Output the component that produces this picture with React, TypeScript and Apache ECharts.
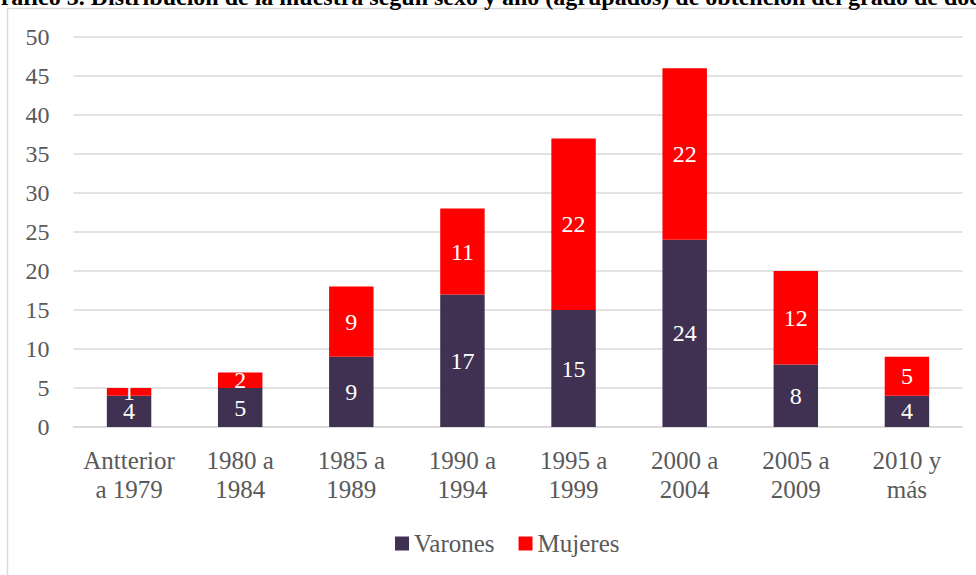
import React, { useEffect, useRef } from "react";
import * as echarts from "echarts";

const categories = [
  "Antterior\na 1979",
  "1980 a\n1984",
  "1985 a\n1989",
  "1990 a\n1994",
  "1995 a\n1999",
  "2000 a\n2004",
  "2005 a\n2009",
  "2010 y\nmás",
];
const varones = [4, 5, 9, 17, 15, 24, 8, 4];
const mujeres = [1, 2, 9, 11, 22, 22, 12, 5];
const titleText =
  "Gráfico 3. Distribución de la muestra según sexo y año (agrupados) de obtención del grado de doctor";

const FONT = "'Liberation Serif', 'DejaVu Serif', serif";

export default function App() {
  const ref = useRef<HTMLDivElement>(null);
  useEffect(() => {
    document.body.style.margin = "0";
    const chart = echarts.init(ref.current!, null, { renderer: "svg" });
    chart.setOption({
      animation: false,
      textStyle: { fontFamily: FONT },
      graphic: [
        {
          type: "rect",
          shape: { x: 7.5, y: 8.5, width: 1000, height: 600 },
          style: { fill: "none", stroke: "#d9d9d9", lineWidth: 1.5 },
          silent: true,
        },
        {
          type: "text",
          x: -18,
          y: 9,
          style: {
            text: titleText,
            fontFamily: FONT,
            fontWeight: "bold",
            fontSize: 24,
            fill: "#000",
            verticalAlign: "bottom",
          },
        },
      ],
      grid: { left: 73.5, right: 13.5, top: 37, bottom: 148, containLabel: false },
      legend: {
        bottom: 14,
        left: 390,
        itemWidth: 14,
        itemHeight: 14,
        itemGap: 24,
        icon: "rect",
        textStyle: { fontSize: 25, color: "#595959", fontFamily: FONT },
        data: ["Varones", "Mujeres"],
      },
      xAxis: {
        type: "category",
        data: categories,
        axisLine: { lineStyle: { color: "#d9d9d9", width: 1.5 } },
        axisTick: { show: false },
        axisLabel: {
          color: "#595959",
          fontSize: 25,
          lineHeight: 29,
          margin: 19,
          interval: 0,
          fontFamily: FONT,
        },
      },
      yAxis: {
        type: "value",
        min: 0,
        max: 50,
        interval: 5,
        axisLine: { show: false },
        axisTick: { show: false },
        splitLine: { lineStyle: { color: "#d9d9d9", width: 1.5 } },
        axisLabel: { color: "#595959", fontSize: 24, margin: 24, fontFamily: FONT },
      },
      series: [
        {
          name: "Varones",
          type: "bar",
          stack: "total",
          data: varones,
          barCategoryGap: "60%",
          itemStyle: { color: "#403152" },
          label: {
            show: true,
            position: "inside",
            color: "#fff",
            fontSize: 24,
            fontFamily: FONT,
          },
        },
        {
          name: "Mujeres",
          type: "bar",
          stack: "total",
          data: mujeres,
          barCategoryGap: "60%",
          itemStyle: { color: "#ff0000" },
          label: {
            show: true,
            position: "inside",
            color: "#fff",
            fontSize: 24,
            fontFamily: FONT,
          },
        },
      ],
    });
    return () => chart.dispose();
  }, []);
  return <div ref={ref} style={{ width: 976, height: 575 }} />;
}
